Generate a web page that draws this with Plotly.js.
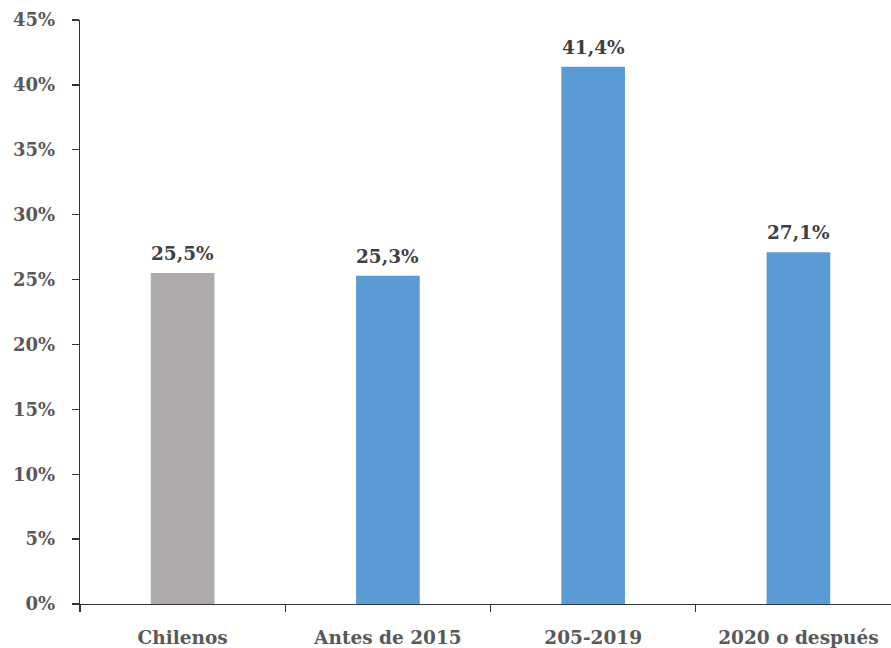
<!DOCTYPE html>
<html>
<head>
<meta charset="utf-8">
<script src="https://cdn.plot.ly/plotly-3.0.1.min.js"></script>
<style>html,body{margin:0;padding:0;background:#fff;}#chart{width:891px;height:648px;}</style>
</head>
<body>
<div id="chart"></div>
<script>
const categories = ["Chilenos", "Antes de 2015", "205-2019", "2020 o después"];
const values = [25.5, 25.3, 41.4, 27.1];
const barColors = ["#AEAAAA", "#5B9BD5", "#5B9BD5", "#5B9BD5"];
const yTickVals = [0, 5, 10, 15, 20, 25, 30, 35, 40, 45];
const yTickText = yTickVals.map(v => v + "%");

const fontFam = "DejaVu Serif, Liberation Serif, serif";

const labels = values.map(v => v.toFixed(1).replace(".", ",") + "%");

Plotly.newPlot("chart", [{
  type: "bar",
  x: categories,
  y: values,
  marker: {color: barColors},
  width: 0.31,
  hoverinfo: "skip"
}], {
  width: 891, height: 648,
  margin: {l: 80, r: 0, t: 20, b: 44},
  paper_bgcolor: "#fff", plot_bgcolor: "#fff",
  showlegend: false,
  xaxis: {
    type: "category",
    range: [-0.5, 3.451],
    tickson: "boundaries",
    ticks: "outside", ticklen: 7, tickwidth: 1.3, tickcolor: "#333",
    showline: true, linecolor: "#333", linewidth: 1.3,
    showgrid: false, zeroline: false,
    tickfont: {family: fontFam, size: 18.5, color: "#595959", weight: "bold"},
    ticklabelstandoff: 16
  },
  yaxis: {
    range: [0, 45],
    tickmode: "array",
    tickvals: yTickVals,
    ticktext: yTickText,
    ticks: "outside", ticklen: 7, tickwidth: 1.3, tickcolor: "#333",
    showline: true, linecolor: "#333", linewidth: 1.3,
    showgrid: false, zeroline: false,
    tickfont: {family: fontFam, size: 18, color: "#595959", weight: "bold"},
    ticklabelstandoff: 13
  },
  annotations: categories.map((c, i) => ({
    x: c, y: values[i], xref: "x", yref: "y",
    text: labels[i], showarrow: false,
    yanchor: "bottom", yshift: 7,
    font: {family: fontFam, size: 18.5, color: "#404040", weight: "bold"}
  }))
}, {staticPlot: true});
</script>
</body>
</html>
